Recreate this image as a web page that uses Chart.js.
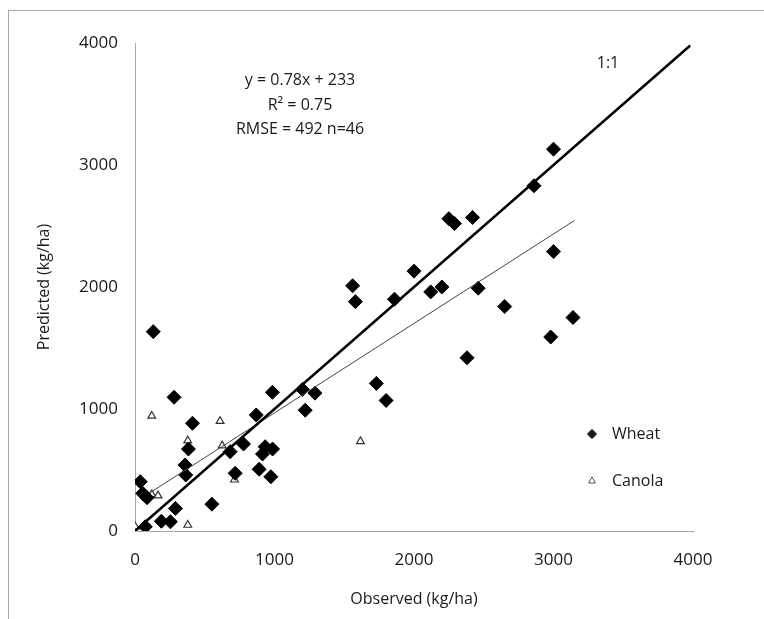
<!DOCTYPE html>
<html lang="en">
<head>
    <meta charset="UTF-8">
    <title>Observed vs Predicted yield</title>
    <script src="https://cdn.jsdelivr.net/npm/chart.js"></script>
    <style>
        body { margin: 0; background: #fff; }
        #wrap { position: relative; width: 764px; height: 619px; }
        #frame { position: absolute; left: 8px; top: 10px; right: 0; bottom: 0;
                 border-left: 1px solid #a6a6a6; border-top: 1px solid #a6a6a6; }
        canvas { position: absolute; left: 0; top: 0; }
    </style>
</head>
<body>
    <div id="wrap">
        <div id="frame"></div>
        <canvas id="yieldChart" width="764" height="619"></canvas>
    </div>

    <script>
        // Wheat: observed (x) and predicted (y), kg/ha
        const wheatObs  = [3000, 2860, 2250, 2290, 2420, 2000, 1560, 1580, 1860, 2120, 2200, 2460, 2650, 3000, 3140, 2980, 2380, 1730, 1800, 1200, 1290, 1220, 985, 131, 280, 412, 869, 383, 359, 364, 38, 55, 86, 290, 189, 254, 74, 551, 778, 682, 718, 890, 974, 933, 914, 986];
        const wheatPred = [3130, 2830, 2560, 2520, 2570, 2130, 2010, 1880, 1900, 1960, 2000, 1990, 1840, 2290, 1750, 1590, 1420, 1210, 1070, 1160, 1130, 990, 1137, 1634, 1096, 883, 951, 672, 541, 459, 404, 309, 273, 185, 80, 76, 35, 220, 713, 650, 473, 506, 445, 691, 631, 672];

        // Canola
        const canolaObs  = [120, 610, 378, 625, 120, 165, 713, 378, 2, 1616];
        const canolaPred = [943, 900, 740, 700, 300, 290, 420, 49, 35, 735];

        // lines
        const oneToOneX = [0, 3980];
        const oneToOneY = [0, 3980];
        const fitX = [108, 3150];
        const fitY = [314, 2545];

        const tickValues = [0, 1000, 2000, 3000, 4000];
        const fitText = ["y = 0.78x + 233", "R\u00b2 = 0.75", "RMSE = 492 n=46"];

        const FONT = "'Open Sans', 'Liberation Sans', sans-serif";
        const toPts = (xs, ys) => xs.map((x, i) => ({ x: x, y: ys[i] }));

        const overlay = {
            id: "overlay",
            afterDraw(chart) {
                const ctx = chart.ctx;
                ctx.save();
                ctx.fillStyle = "#1a1a1a";
                ctx.font = "16px " + FONT;
                ctx.textBaseline = "middle";
                ctx.textAlign = "center";
                [80, 105, 129].forEach((y, i) => ctx.fillText(fitText[i], 300, y));
                ctx.fillText("1:1", 608, 63);

                // legend
                ctx.textAlign = "left";
                Chart.helpers.drawPoint(ctx, {
                    pointStyle: "rectRot", radius: 4.5, borderWidth: 1
                }, 592, 434);
                ctx.fillStyle = "#1a1a1a";
                ctx.fillText("Wheat", 612, 434);
                ctx.fillStyle = "#fff";
                ctx.strokeStyle = "#555";
                Chart.helpers.drawPoint(ctx, {
                    pointStyle: "triangle", radius: 4, borderWidth: 1
                }, 592, 481);
                ctx.fillStyle = "#1a1a1a";
                ctx.fillText("Canola", 612, 481);
                ctx.restore();
            }
        };

        const tickFont = { family: FONT, size: 17 };
        const titleFont = { family: FONT, size: 16 };

        const axis = (title, extra) => Object.assign({
            type: "linear",
            min: 0,
            max: 4000,
            afterBuildTicks: s => { s.ticks = tickValues.map(v => ({ value: v })); },
            grid: { display: false, drawTicks: false },
            border: { display: true, color: "#a6a6a6", width: 1 }
        }, extra);

        new Chart(document.getElementById("yieldChart"), {
            type: "scatter",
            data: {
                datasets: [
                    {
                        label: "1:1",
                        data: toPts(oneToOneX, oneToOneY),
                        showLine: true,
                        borderColor: "#000",
                        borderWidth: 2.5,
                        pointRadius: 0
                    },
                    {
                        label: "Fit",
                        data: toPts(fitX, fitY),
                        showLine: true,
                        borderColor: "#444",
                        borderWidth: 1,
                        pointRadius: 0
                    },
                    {
                        label: "Wheat",
                        data: toPts(wheatObs, wheatPred),
                        pointStyle: "rectRot",
                        pointRadius: 7,
                        backgroundColor: "#000",
                        borderColor: "#000",
                        borderWidth: 1
                    },
                    {
                        label: "Canola",
                        data: toPts(canolaObs, canolaPred),
                        pointStyle: "triangle",
                        pointRadius: 4.5,
                        backgroundColor: "#fff",
                        borderColor: "#333",
                        borderWidth: 1.2
                    }
                ]
            },
            options: {
                responsive: false,
                animation: false,
                layout: { padding: { left: 0, top: 43, right: 71, bottom: 0 } },
                plugins: { legend: { display: false }, tooltip: { enabled: false } },
                scales: {
                    x: axis("Observed (kg/ha)", {
                        afterFit: s => { s.height = 88; },
                        ticks: { color: "#1a1a1a", padding: 19, font: tickFont, callback: v => String(v) },
                        title: { display: true, text: "Observed (kg/ha)", color: "#1a1a1a",
                                 padding: { bottom: 10 }, font: titleFont }
                    }),
                    y: axis("Predicted (kg/ha)", {
                        afterFit: s => { s.width = 135; },
                        ticks: { color: "#1a1a1a", padding: 17, font: tickFont, callback: v => String(v) },
                        title: { display: true, text: "Predicted (kg/ha)", color: "#1a1a1a",
                                 padding: { top: 35 }, font: titleFont }
                    })
                }
            },
            plugins: [overlay]
        });
    </script>
</body>
</html>
